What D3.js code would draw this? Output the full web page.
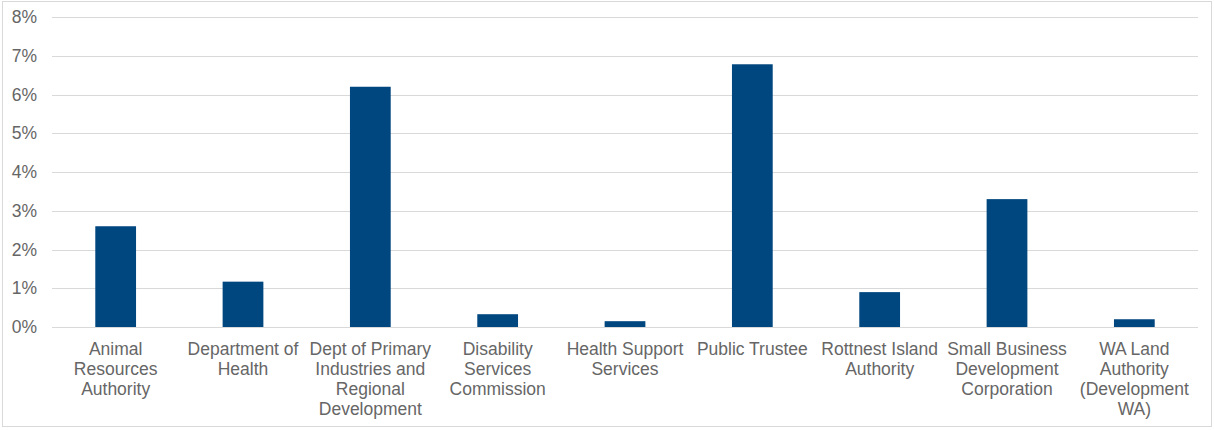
<!DOCTYPE html>
<html>
<head>
<meta charset="utf-8">
<script src="https://cdn.jsdelivr.net/npm/d3@7"></script>
<style>
  body { margin: 0; background: #fff; }
  svg text { font-family: "Liberation Sans", Arial, sans-serif; fill: #666666; }
</style>
</head>
<body>
<div id="chart"></div>
<script>
const categories = [
  "Animal\nResources\nAuthority",
  "Department of\nHealth",
  "Dept of Primary\nIndustries and\nRegional\nDevelopment",
  "Disability\nServices\nCommission",
  "Health Support\nServices",
  "Public Trustee",
  "Rottnest Island\nAuthority",
  "Small Business\nDevelopment\nCorporation",
  "WA Land\nAuthority\n(Development\nWA)"
];
const values = [2.6, 1.17, 6.2, 0.33, 0.15, 6.78, 0.9, 3.3, 0.2];
const yTicks = [0, 1, 2, 3, 4, 5, 6, 7, 8];

const BAR_COLOR = "#00467f";
const GRID_COLOR = "#d9d9d9";
const FONT_SIZE = 17.5;

const size = { width: 1214, height: 430 };
const margin = { top: 17, right: 16, bottom: 103, left: 52 };
const width = size.width - margin.left - margin.right;
const height = size.height - margin.top - margin.bottom;

const svg = d3.select("#chart")
  .append("svg")
  .attr("width", size.width)
  .attr("height", size.height);

// outer chart border
svg.append("rect")
  .attr("x", 2.5)
  .attr("y", 1.5)
  .attr("width", 1209)
  .attr("height", 425)
  .attr("fill", "none")
  .attr("stroke", GRID_COLOR);

const g = svg.append("g")
  .attr("transform", `translate(${margin.left},${margin.top})`);

const x = d3.scaleBand()
  .domain(categories)
  .range([0, width])
  .paddingInner(0.68)
  .paddingOuter(0.34);

const y = d3.scaleLinear()
  .domain([0, 8])
  .range([height, 0]);

// gridlines
g.append("g")
  .selectAll("line")
  .data(yTicks)
  .join("line")
  .attr("x1", 0)
  .attr("x2", width)
  .attr("y1", d => Math.round(y(d)) + 0.5)
  .attr("y2", d => Math.round(y(d)) + 0.5)
  .attr("stroke", GRID_COLOR)
  .attr("stroke-width", 1.2);

// y axis labels
const yAxis = d3.axisLeft(y)
  .tickValues(yTicks)
  .tickFormat(d => d + "%")
  .tickSize(0)
  .tickPadding(15);

g.append("g")
  .attr("class", "y-axis")
  .call(yAxis)
  .call(s => s.select(".domain").remove())
  .selectAll("text")
  .attr("font-size", FONT_SIZE)
  .attr("fill", "#666666")
  .attr("font-family", "Liberation Sans, Arial, sans-serif");

// bars
g.append("g")
  .selectAll("rect")
  .data(values)
  .join("rect")
  .attr("x", (d, i) => x(categories[i]))
  .attr("y", d => y(d))
  .attr("width", x.bandwidth())
  .attr("height", d => y(0) - y(d))
  .attr("fill", BAR_COLOR);

// category labels
const labels = g.append("g")
  .attr("transform", `translate(0,${height})`)
  .selectAll("text")
  .data(categories)
  .join("text")
  .attr("text-anchor", "middle")
  .attr("font-size", FONT_SIZE)
  .attr("x", d => x(d) + x.bandwidth() / 2)
  .attr("y", 28);

labels.selectAll("tspan")
  .data(d => d.split("\n"))
  .join("tspan")
  .attr("x", function() { return d3.select(this.parentNode).attr("x"); })
  .attr("dy", (d, i) => i === 0 ? 0 : 20)
  .text(d => d);
</script>
</body>
</html>
